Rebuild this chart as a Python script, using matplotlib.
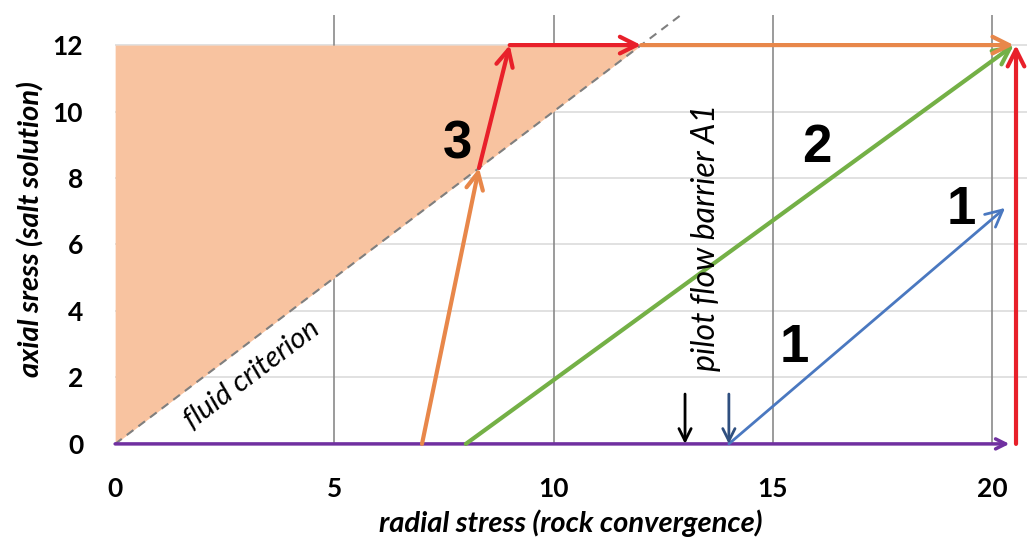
import numpy as np
import matplotlib.pyplot as plt

# axis ticks
radial_ticks = [0, 5, 10, 15, 20]
axial_ticks = [0, 2, 4, 6, 8, 10, 12]

# fluid criterion: axial = radial
criterion_x = [0, 13]
criterion_y = [0, 13]
fill_x = [0, 12]
fill_top = [12, 12]

# load paths (start -> end)
purple_path = [(0, 0), (20.4, 0)]
orange_up = [(7.0, 0), (8.3, 8.3)]
red_up = [(8.3, 8.3), (9.0, 12)]
red_right = [(9.0, 12), (12.0, 12)]
orange_right = [(12.0, 12), (20.5, 12)]
green_path = [(8.0, 0), (20.5, 12)]
blue_path = [(14.0, 0), (20.3, 7.1)]
red_vertical = [(20.55, 0), (20.55, 12)]
black_marker = [(13.0, 1.5), (13.0, 0)]
navy_marker = [(14.0, 1.5), (14.0, 0)]

# path numbers
path_labels = ['3', '2', '1', '1']
label_x = [7.8, 16.0, 19.3, 15.5]
label_y = [9.0, 8.9, 7.05, 2.9]

RED = '#E8202A'
ORANGE = '#E8874A'
GREEN = '#74B046'
BLUE = '#4A78C0'
PURPLE = '#7030A0'

plt.rcParams['font.family'] = ['Lato', 'DejaVu Sans']

fig = plt.figure(figsize=(10.28, 5.42), dpi=100)
ax = fig.add_axes([0.112, 0.181, 0.887, 0.791])
ax.set_xlim(0, 20.8)
ax.set_ylim(0, 12.9)

for s in ax.spines.values():
    s.set_visible(False)

for y in axial_ticks[1:]:
    ax.axhline(y, color='#DCDCDC', lw=1.2, zorder=0)
for x in radial_ticks[1:]:
    ax.axvline(x, color='#8A8A8A', lw=1.2, zorder=1)

ax.fill_between(fill_x, fill_x, fill_top, color='#F8C3A0', zorder=1, lw=0)
ax.plot(criterion_x, criterion_y, ls=(0, (4, 3)), color='#7F7F7F', lw=1.5, zorder=2)


def arrow(path, color, lw=3, scale=30):
    (x0, y0), (x1, y1) = path
    ax.annotate('', xy=(x1, y1), xytext=(x0, y0),
                arrowprops=dict(arrowstyle='->', color=color, lw=lw,
                                mutation_scale=scale, shrinkA=0, shrinkB=0),
                annotation_clip=False, zorder=4)


arrow(purple_path, PURPLE, lw=2.5, scale=18)
arrow(green_path, GREEN, lw=3)
arrow(blue_path, BLUE, lw=2)
arrow(orange_up, ORANGE, lw=3)
arrow(orange_right, ORANGE, lw=3)
arrow(red_up, RED, lw=3)
arrow(red_right, RED, lw=3)
arrow(red_vertical, RED, lw=3)
arrow(black_marker, 'black', lw=2, scale=22)
arrow(navy_marker, '#2F4F7F', lw=2, scale=22)

for txt, lx, ly in zip(path_labels, label_x, label_y):
    ax.text(lx, ly, txt, fontsize=38, fontweight='bold', family='Liberation Sans',
            ha='center', va='center', zorder=5)

ax.text(3.13, 2.1, 'fluid criterion', fontsize=21, style='italic', rotation=37,
        rotation_mode='anchor', ha='center', va='center', zorder=5)
ax.text(13.47, 6.2, 'pilot flow barrier A1', fontsize=23, style='italic', rotation=90,
        ha='center', va='center', zorder=5)

ax.set_xticks(radial_ticks)
ax.set_yticks(axial_ticks)
ax.tick_params(length=0, labelsize=19)
ax.tick_params(axis='x', pad=24)
ax.tick_params(axis='y', pad=23)
for lbl in ax.get_xticklabels() + ax.get_yticklabels():
    lbl.set_fontweight('bold')

ax.set_xlabel('radial stress (rock convergence)', fontsize=21, fontweight='bold',
              style='italic', labelpad=6)
ax.set_ylabel('axial sress (salt solution)', fontsize=21, fontweight='bold',
              style='italic', labelpad=6)

fig.savefig('out.png', dpi=100)
